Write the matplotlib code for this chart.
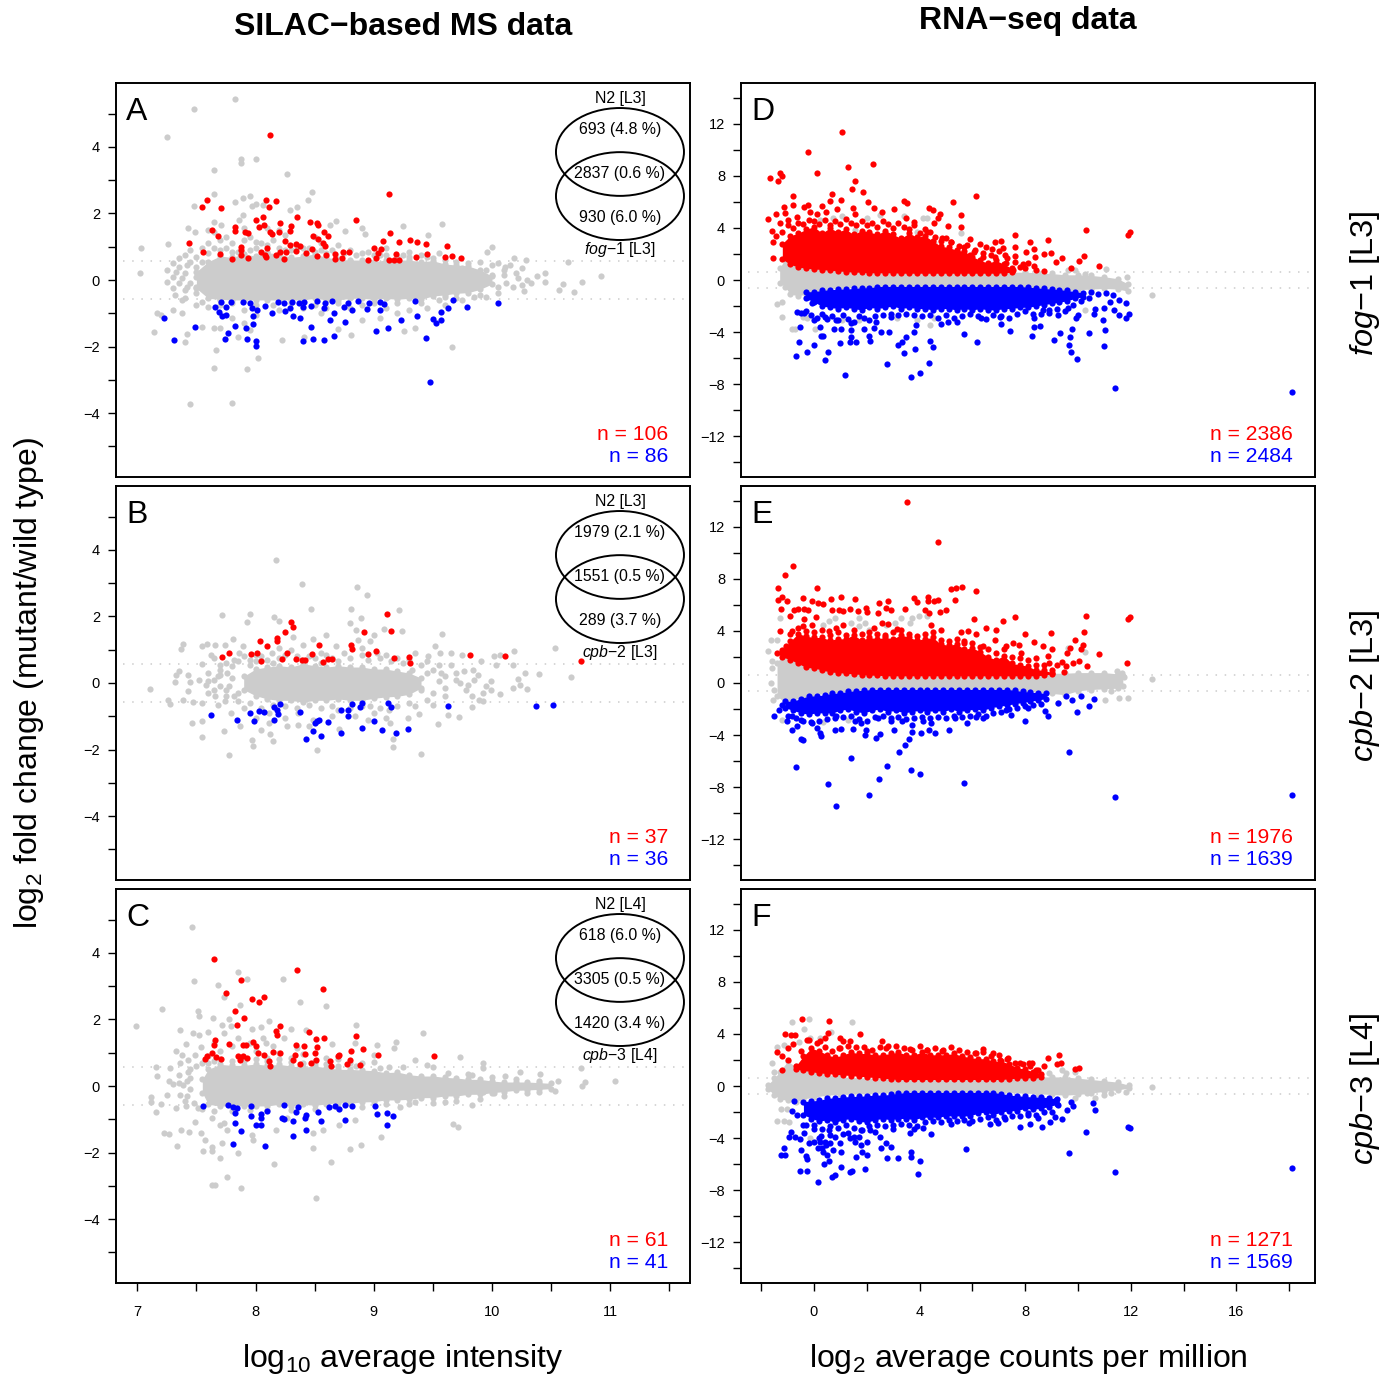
#! /usr/bin/env python3

import matplotlib
matplotlib.use("Agg")
import matplotlib.pyplot as plt
from matplotlib.patches import Ellipse

plt.rcParams["font.family"] = ["Liberation Sans", "DejaVu Sans"]
plt.rcParams["mathtext.fontset"] = "custom"
plt.rcParams["mathtext.rm"] = "Liberation Sans"
plt.rcParams["mathtext.it"] = "Liberation Sans:italic"
plt.rcParams["mathtext.bf"] = "Liberation Sans:bold"
plt.rcParams["mathtext.default"] = "regular"

GRAY = "#CCCCCC"
RED = "#FF0000"
BLUE = "#0000FF"

# ---- panel A, sparse points (log10 intensity, log2 fc)
a_gray = [(7.83,5.44),(7.48,5.15),(7.25,4.29),(7.88,3.63),(7.88,3.51),(8.0,3.63),(7.65,3.32),(8.27,3.2),(7.65,2.58),(8.48,2.64),
    (7.89,2.46),(7.95,2.51),(7.83,2.33),(7.48,2.23),(7.97,2.23),(8.0,2.29),(8.06,2.26),(8.35,2.2),(8.29,2.09),(8.44,2.41),
    (7.89,1.96),(7.86,1.8),(8.68,1.76),(8.63,1.65),(9.58,1.69),(9.25,1.61),(7.43,1.55),(7.49,1.45),(7.6,1.5),(7.71,1.65),
    (7.65,1.75),(8.9,1.55),(8.93,1.38),(8.76,1.47),(9.46,1.35),(7.03,.97),(7.26,1.07),(7.02,.22),(10.0,.98),(9.96,.85),
    (10.19,.65),(10.29,.6),(10.11,.4),(10.64,.53),(10.92,.12),(10.76,-.06),(10.6,-.12),(10.57,-.3),(10.69,-.37),(10.45,.2),
    (10.45,-.07),(10.38,.13),(10.33,-.1),(10.27,-.32),(7.4,.75),(7.35,.65),(7.45,.9),(7.55,.95),(7.6,1.1),(7.7,1.2),
    (7.75,1.3),(7.8,1.1),(7.9,1.2),(7.95,1.3),(8.05,1.1),(8.15,1.2),(8.25,1.35),(8.35,1.0),(8.5,1.3),(8.55,1.1),
    (8.7,1.05),(8.8,.9),(8.95,.85),(9.1,.95),(9.3,.85),(9.4,.75),(9.55,.8),(7.6,.8),(7.7,.9),(7.85,.85),
    (8.0,.95),(8.1,.85),(8.3,.9),(8.45,.95),(8.6,.8),(9.05,.75),(9.2,.7),(8.85,.75),(7.65,1.45),(8.1,1.55),
    (8.2,1.5),(7.9,1.55),(7.3,.5),(7.25,.3),(7.3,.1),(7.25,-.05),(7.3,-.25),(7.35,.4),(7.4,.2),(7.35,-.1),
    (7.4,-.3),(7.32,-.45),(7.38,-.6),(7.45,-.1),(9.9,.55),(10.0,.45),(10.05,.5),(10.1,.3),(10.15,.45),(10.2,.2),
    (10.22,.05),(10.25,.35),(10.12,-.1),(10.18,-.2),(10.05,-.4),(9.9,-.45),(9.75,-.6),(10.0,.15),(10.3,.0),(10.25,-.15),
    (9.95,-.5),(7.2,-1.05),(7.17,-1.0),(7.14,-1.55),(7.38,-1.0),(7.3,-.9),(7.55,-1.4),(7.65,-1.45),(7.7,-1.45),(7.8,-1.15),
    (7.9,-1.3),(7.95,-1.5),(7.85,-1.7),(7.67,-2.1),(7.65,-2.63),(7.93,-2.68),(8.02,-2.35),(7.45,-3.72),(7.8,-3.69),(9.66,-2.0),
    (8.22,-1.8),(7.4,-1.87),(7.42,-1.62),(9.26,-1.52),(9.35,-1.45),(8.81,-1.65),(8.7,-1.48),(8.41,-1.7),(7.6,-.8),(7.7,-.75),
    (7.9,-.9),(8.0,-1.05),(8.2,-.9),(8.4,-.85),(8.55,-1.0),(8.6,-.85),(8.8,-.85),(8.9,-1.2),(9.05,-1.15),(9.1,-.85),
    (9.2,-1.0),(9.3,-.9),(9.45,-.85),(9.6,-.75),
    (7.5,.7),(7.55,.55),(7.65,.95),(7.75,.95),(7.8,.85),(7.95,.9),(8.0,1.15),(8.1,1.05),(8.2,.95),(8.25,.9),
    (8.4,.95),(8.5,.85),(8.55,.9),(8.65,.9),(8.75,.8),(8.9,.8),(9.0,.75),(9.1,.75),(9.25,.75),(9.3,.7),
    (9.45,.7),(9.5,.65),(9.6,.6),(9.7,.55),(9.8,.5),(9.75,.35),(7.4,-.55),(7.5,-.75),(7.55,-.65),(7.7,-.6),
    (7.8,-.7),(8,-.75),(8.15,-.75),(8.3,-.7),(8.5,-.75),(8.7,-.7),(8.9,-.75),(9,-.7),(9.2,-.7),(9.4,-.7),
    (9.55,-.6),(9.7,-.55),(9.85,-.5),(9.6,-.5),(7.42,.45),(7.38,.05),(7.42,-.2),(7.33,.25),(7.45,.55),(7.5,.4),
    (7.5,.1),(7.5,-.2),(7.5,-.4),(9.95,.3),(10.1,.15),(10.05,-.2)]
a_red = [(8.12,4.35),(9.13,2.58),(7.59,2.4),(7.55,2.19),(7.71,2.15),(8.09,2.4),(8.17,2.37),(8.11,2.19),(8.06,1.9),(8.0,1.8),
    (8.35,1.9),(8.85,1.79),(8.46,1.75),(8.52,1.72),(8.53,1.65),(8.21,1.7),(8.07,1.66),(8.03,1.6),(8.3,1.63),(7.83,1.6),
    (7.83,1.48),(7.63,1.49),(7.91,1.45),(7.94,1.42),(8.12,1.45),(8.14,1.38),(8.2,1.45),(8.29,1.47),(8.58,1.45),(8.61,1.33),
    (8.49,1.32),(9.14,1.41),(7.68,1.32),(7.44,1.11),(9.21,1.15),(9.31,1.2),(9.37,1.14),(9.44,1.09),(9.08,1.17),(8.25,1.17),
    (8.34,1.09),(8.38,1.03),(8.53,1.23),(8.57,1.1),(8.59,1.02),(8.29,1.05),(7.88,.99),(9.0,.96),(9.62,1.03),(8.1,.95),
    (7.56,.84),(7.88,.9),(7.7,.79),(7.88,.75),(8.05,.83),(8.08,.75),(8.21,.83),(8.26,.83),(8.34,.88),(8.48,.92),
    (8.43,.8),(8.52,.73),(8.6,.75),(8.67,.77),(8.74,.83),(8.79,.85),(9.06,.92),(9.04,.8),(9.45,.77),(9.19,.78),
    (9.36,.7),(9.6,.69),(9.66,.72),(9.74,.66),(7.8,.64),(7.94,.67),(8.09,.7),(8.17,.75),(8.24,.63),(8.67,.63),
    (8.73,.65),(8.95,.6),(9.02,.65),(9.13,.6),(9.21,.6),(9.17,.6)]
a_blue = [(7.23,-1.14),(7.31,-1.8),(7.49,-1.41),(9.48,-3.06),(9.44,-1.75),(10.05,-.68),(9.79,-.82),(9.67,-.6),(9.63,-.85),(9.57,-.97),
    (9.5,-1.18),(9.53,-1.28),(9.57,-1.2),(9.37,-1.08),(9.23,-1.21),(9.12,-1.43),(9.02,-1.53),(9.05,-.9),(9.05,-.65),(9.09,-.72),
    (8.94,-.88),(8.96,-.68),(8.87,-.63),(9.35,-.64),(8.82,-.9),(8.78,-.68),(8.75,-.82),(8.76,-1.27),(8.63,-1.2),(8.66,-1.0),
    (8.58,-.83),(8.59,-.68),(8.65,-.63),(8.52,-.63),(8.47,-.77),(8.4,-.8),(8.41,-.67),(8.37,-.7),(8.31,-.65),(8.24,-.7),
    (8.19,-.65),(8.29,-.85),(8.25,-.92),(8.14,-.98),(8.08,-.77),(8.01,-.9),(7.97,-.83),(7.95,-.68),(7.89,-.65),(7.79,-.67),
    (7.71,-.67),(7.75,-.8),(7.66,-.82),(7.69,-.95),(7.72,-1.08),(7.75,-1.05),(7.98,-1.07),(7.98,-1.31),(7.92,-1.43),(7.83,-1.38),
    (7.77,-1.58),(7.74,-1.78),(7.93,-1.77),(8.0,-1.83),(8.0,-1.98),(8.32,-1.08),(8.38,-1.15),(8.47,-1.42),(8.4,-1.84),(8.49,-1.77),
    (8.58,-1.79),(8.66,-1.67)]
a_band_x = [7.5,7.6,7.7,7.8,7.9,8.0,8.1,8.2,8.3,8.4,8.5,8.6,8.7,8.8,8.9,9.0,9.1,9.2,9.3,9.4,9.5,9.6,9.7,9.8,9.9,10.0]
a_band_top = [.25,.55,.72,.68,.78,.72,.82,.78,.68,.72,.78,.68,.62,.6,.6,.55,.6,.6,.6,.55,.58,.48,.45,.42,.3,.12]
a_band_bot = [-.25,-.55,-.58,-.6,-.6,-.6,-.6,-.6,-.6,-.6,-.55,-.6,-.6,-.55,-.55,-.58,-.55,-.58,-.55,-.58,-.48,-.45,-.4,-.38,-.28,-.12]

# ---- panel B
b_gray = [(8.17,3.7),(8.39,2.98),(8.86,2.89),(8.94,2.63),(7.72,2.04),(7.95,2.08),(7.93,1.83),(8.16,1.97),(8.2,1.87),(8.47,2.22),
    (8.81,2.22),(9.21,2.2),(8.89,1.95),(8.8,1.8),(8.85,1.6),(9.24,1.55),(9.09,1.63),(9.58,1.48),(9.0,1.45),(8.87,1.28),
    (8.97,1.25),(8.6,1.45),(8.49,1.32),(8.32,1.38),(7.81,1.33),(10.53,1.05),(10.19,.97),(10.07,.85),(10.02,.8),(10.67,.18),
    (10.4,.27),(10.28,.31),(10.18,.53),(10.22,.13),(10.3,-.17),(10.24,-.05),(10.18,-.15),(7.39,1.17),(7.37,1.02),(7.55,1.1),
    (7.59,1.17),(7.66,1.13),(7.74,1.13),(7.89,1.1),(7.62,.85),(7.65,.75),(7.82,.7),(7.55,.57),(7.35,.37),(7.33,.25),
    (7.43,.23),(7.32,.03),(7.11,-.19),(7.45,.03),(7.52,.1),(7.43,-.25),(7.39,-.5),(7.26,-.5),(7.28,-.62),(7.47,-.58),
    (7.55,-.6),(7.46,-1.2),(7.55,-1.15),(7.55,-1.62),(7.73,-1.43),(7.78,-2.16),(7.97,-1.72),(7.98,-1.9),(8.15,-1.74),(8.12,-1.52),
    (8.52,-2.02),(9.4,-2.12),(9.16,-1.92),(9.16,-1.67),(8.71,-1.38),(9.14,-1.2),(9.29,-1.05),(9.38,-.93),(9.54,-1.22),(9.63,-.97),
    (9.72,-1.03),(9.83,-.72),(9.89,-.5),(9.99,-.2),(10.07,-.33),(9.92,-.3),(9.83,-.4),(9.78,-.2),(9.73,0),(9.76,.35),
    (9.84,.4),(9.91,.65),(9.75,.85),(9.65,.9),(9.56,.9),(9.52,1.1),(9.65,.55),(9.57,.3),(9.35,.9),(9.46,.8),
    (9.99,.05),(10.03,.55),(9.95,-.1),(9.13,-.8),(9.0,-.9),(8.97,-.7),(8.84,-1.0),(8.65,-1.0),(8.36,-1.25),(8.27,-1.3),
    (8.05,-1.4),(8.11,-1.2),(7.87,-1.3),(7.79,-.9),(7.68,-.65),(8.36,-.9),(8.49,-1.1),(7.82,-.4),(7.7,-.1),(7.7,.25),
    (7.76,.3),(7.6,.3),(7.6,-.3),(7.66,-.4),(7.74,-.55),(8.11,-.9),(8.3,1.0),(8.4,1.15),(8.68,1.1),(9.03,.9),
    (8.75,.9),(8.55,.9),(8.14,.9),(7.86,.9),(9.32,.4),(9.2,.75),(9.1,.85),(8.9,1.05),(8.2,1.05),(8.0,.85),
    (7.95,.7),(8.45,.8),(8.65,.75),(9.55,.55),(9.6,-.4),(9.7,.3),(9.85,.1),(9.5,-.65),(9.35,-.7),(7.9,-.75),
    (8.0,-1.05),(8.25,-1.05),(8.45,-1.3),(8.7,-.8),(8.95,-1.1),(9.1,-1.05),(7.65,.1),(7.75,-.2),(7.58,-.05),(7.7,.55),
    (7.7,.4),(7.75,.6),(7.8,.5),(7.85,.65),(7.9,.8),(7.95,.55),(8,.65),(8.05,.8),(8.1,.7),(8.15,.6),
    (8.2,.75),(8.25,.85),(8.35,.8),(8.4,.7),(8.5,.75),(8.55,.6),(8.6,.85),(8.7,.65),(8.8,.75),(8.9,.85),
    (8.95,.7),(9.05,.75),(9.15,.65),(9.25,.6),(9.3,.7),(9.4,.55),(9.45,.65),(9.5,.4),(9.6,.2),(9.55,.05),
    (9.6,-.15),(9.7,.1),(9.5,-.3),(9.45,-.5),(9.3,-.6),(9.2,-.7),(9.05,-.75),(8.9,-.7),(8.8,-.75),(8.65,-.7),
    (8.55,-.75),(8.45,-.65),(8.35,-.75),(8.25,-.7),(8.15,-.65),(8.05,-.75),(7.95,-.6),(7.85,-.55),(7.75,-.4),(7.65,-.2),
    (7.6,.05),(7.68,.2),(9.8,-.05),(9.88,.25),(9.92,-.55),(9.45,.3),(9.4,-.2),(7.8,.15),(7.78,-.1),(7.85,-.3)]
b_red = [(7.72,.78),(7.78,.9),(7.96,.88),(8.01,.9),(8.05,.67),(8.04,1.27),(8.1,1.1),(8.18,1.34),(8.18,1.25),(8.25,1.52),
    (8.3,1.83),(8.32,1.67),(8.22,.71),(8.27,.89),(8.34,.71),(8.39,.68),(8.42,.68),(8.48,.87),(8.54,1.14),(8.57,.63),
    (8.61,.73),(8.65,.73),(8.81,1.14),(8.82,1.03),(8.92,1.53),(8.95,.88),(9.02,.96),(9.11,2.07),(9.15,1.57),(9.17,.74),
    (9.3,.78),(9.31,.6),(9.81,.85),(10.11,.8),(10.75,.66)]
b_blue = [(7.62,-.96),(7.84,-1.11),(7.95,-.91),(7.99,-1.15),(8.03,-.83),(8.07,-.86),(8.16,-1.12),(8.16,-.73),(8.18,-.8),(8.19,-.92),
    (8.21,-.62),(8.38,-.88),(8.43,-1.69),(8.49,-1.44),(8.5,-1.19),(8.52,-1.14),(8.54,-1.1),(8.61,-1.18),(8.55,-1.59),(8.72,-1.51),
    (8.72,-.81),(8.78,-.82),(8.78,-.98),(8.82,-.63),(8.88,-.71),(8.9,-.59),(8.9,-1.34),(9.0,-1.14),(9.07,-1.41),(9.12,-.61),
    (9.15,-.73),(9.19,-1.5),(9.29,-1.38),(9.63,-.68),(10.37,-.68),(10.52,-.65)]
b_band_x = [7.9,8.0,8.1,8.2,8.3,8.4,8.5,8.6,8.7,8.8,8.9,9.0,9.1,9.2,9.3,9.4]
b_band_top = [.2,.42,.48,.52,.48,.58,.52,.48,.52,.48,.48,.42,.42,.36,.3,.15]
b_band_bot = [-.2,-.38,-.48,-.52,-.52,-.58,-.52,-.52,-.48,-.52,-.52,-.46,-.42,-.4,-.34,-.15]

# ---- panel C
c_gray = [(7.46,4.78),(7.85,3.44),(7.93,3.21),(7.48,3.16),(7.68,3.05),(8.23,3.21),(7.73,2.67),(8.38,2.52),(7.87,2.44),(8.6,2.39),
    (7.21,2.31),(7.51,2.26),(7.52,2.09),(7.64,2.04),(6.99,1.79),(7.36,1.69),(7.47,1.6),(7.52,1.53),(7.6,1.61),(7.72,1.84),
    (7.78,2.02),(7.79,1.79),(7.73,1.58),(7.97,1.71),(8.05,1.77),(8.11,1.94),(8.06,1.43),(8.09,1.28),(8.3,1.71),(8.24,1.43),
    (8.43,1.67),(8.85,1.84),(9.42,1.58),(9.19,1.33),(9.17,1.13),(9.03,1.23),(9.0,.93),(9.73,.86),(8.84,1.28),(8.65,1.26),
    (7.41,1.25),(7.33,1.06),(7.38,.93),(7.43,.78),(7.49,.93),(7.54,1.18),(7.16,.58),(7.17,.31),(7.28,.53),(7.36,.68),
    (7.35,.33),(7.43,.43),(7.27,.16),(7.39,.03),(7.36,-.27),(7.25,-.27),(7.12,-.32),(7.12,-.47),(7.2,-.55),(7.16,-.77),
    (7.33,-.67),(7.41,-.6),(7.51,-.67),(7.49,-1.07),(7.23,-1.42),(7.27,-1.44),(7.37,-1.32),(7.44,-1.37),(7.54,-1.42),(7.57,-1.62),
    (7.34,-1.8),(7.56,-1.95),(7.63,-1.83),(7.63,-1.96),(7.72,-1.7),(7.85,-2.01),(7.7,-2.16),(7.76,-2.74),(7.63,-2.97),(7.66,-2.97),
    (7.88,-3.08),(8.51,-3.38),(8.16,-2.33),(8.64,-2.28),(8.49,-1.86),(8.8,-1.9),(8.89,-1.76),(9.06,-1.53),(9.67,-1.13),(9.71,-1.24),
    (7.63,-.97),(7.7,-1.17),(7.76,-1.32),(7.73,-1.12),(7.97,-1.47),(7.98,-1.62),(8.17,-1.32),(8.27,-.97),(8.49,-1.42),(8.57,-1.32),
    (8.71,-1.17),(8.84,-1.02),(9.22,-.62),(9.35,-.47),(9.6,-.47),(9.83,-.57),(9.92,-.17),(10.02,-.22),(9.92,.68),(9.92,.53),
    (10.24,.43),(10.11,.3),(10.41,.36),(10.56,.16),(10.75,.53),(10.79,.13),(10.76,.01),(11.04,.16),(10.53,-.14),(10.4,-.17),
    (9.35,.78),(9.45,.63),(9.5,.58),(9.25,.58),(9.13,.58),(9.63,.38),(9.83,.33),(9.0,.73),(7.6,.9),(7.7,1.05),
    (7.8,1.2),(7.9,.85),(8.0,1.05),(8.1,.85),(8.2,1.0),(8.3,.85),(8.4,.95),(8.5,.75),(8.6,.85),(8.7,.8),
    (8.8,.7),(8.9,.7),(7.65,1.3),(7.85,1.45),(7.95,1.3),(8.15,1.2),(8.35,1.15),(7.3,.05),(7.4,-.45),(7.45,.25),
    (7.45,.5),(7.5,.6),(7.55,.7),(7.6,.7),(7.65,.75),(7.7,.8),(7.8,.75),(7.9,.75),(8.0,.8),(8.1,.75),
    (8.2,.8),(8.3,.72),(8.4,.7),(8.5,.7),(8.6,.65),(8.7,.6),(8.85,.6),(9.05,.55),(7.35,.1),(7.42,.15),
    (7.45,-.1),(7.42,-.3),(7.48,-.5),(7.55,-.7),(7.65,-.75),(7.8,-.75),(7.95,-.72),(8.1,-.72),(8.3,-.72),(8.5,-.7),
    (8.7,-.65),(8.9,-.62),(9.1,-.55),(9.3,-.55),(9.5,-.5),(9.7,-.45),(9.9,-.4),(10.1,-.3),(10.3,-.2),(9.8,.35),
    (10,.28),(10.2,.22),(10.4,.15)]
c_red = [(7.65,3.81),(8.35,3.5),(7.88,3.19),(8.57,2.91),(7.75,2.8),(7.97,2.62),(8.07,2.66),(8.03,2.53),(7.83,2.24),(7.9,2.03),
    (7.84,1.83),(8.21,1.81),(8.17,1.65),(8.18,1.53),(8.45,1.63),(8.85,1.49),(8.51,1.41),(8.58,1.45),(7.66,1.38),(7.65,1.22),
    (7.78,1.25),(7.89,1.22),(7.92,1.24),(7.98,1.32),(8.0,1.19),(8.02,1.0),(8.07,.93),(8.15,1.03),(8.21,.98),(8.34,1.22),
    (8.41,1.2),(8.52,1.16),(8.5,.99),(8.42,.97),(8.33,.93),(8.81,1.04),(8.91,1.1),(9.04,.94),(9.51,.91),(7.63,.98),
    (7.59,.91),(7.57,.81),(7.67,.86),(7.71,.82),(7.85,.91),(7.89,.91),(7.93,.85),(7.87,.78),(8.11,.75),(8.12,.59),
    (8.32,.77),(8.38,.66),(8.47,.69),(8.51,.79),(8.63,.76),(8.64,.6),(8.7,.91),(8.71,.93),(8.8,.79),(8.77,.65),(8.88,.62)]
c_blue = [(7.56,-.6),(7.77,-.57),(7.81,-.64),(7.84,-.66),(7.83,-.82),(7.96,-.6),(7.96,-.91),(7.83,-1.11),(7.88,-1.36),(7.81,-1.73),
    (8.08,-1.79),(8.0,-1.16),(8.05,-1.16),(8.05,-.84),(8.05,-.97),(8.1,-.76),(8.24,-.58),(8.22,-.97),(8.24,-1.0),(8.34,-.78),
    (8.36,-.62),(8.32,-1.05),(8.32,-1.49),(8.43,-1.32),(8.42,-.97),(8.43,-.88),(8.53,-.77),(8.55,-1.05),(8.62,-.62),(8.67,-.6),
    (8.71,-.69),(8.76,-.57),(8.82,-.61),(8.76,-1.01),(9.01,-.59),(9.03,-.83),(9.11,-.81),(9.16,-.91),(9.11,-1.17)]
c_band_x = [7.55,7.6,7.7,7.8,7.9,8.0,8.1,8.2,8.3,8.4,8.5,8.6,8.7,8.8,8.9,9.0,9.1,9.2,9.3,9.4,9.5,9.6,9.7,9.8,9.9,10.0,10.1,10.2,10.3,10.4,10.5]
c_band_top = [.2,.5,.65,.62,.62,.66,.62,.65,.6,.56,.6,.55,.5,.5,.48,.46,.4,.42,.34,.3,.3,.26,.24,.2,.2,.15,.12,.12,.12,.1,.08]
c_band_bot = [-.2,-.55,-.6,-.6,-.6,-.6,-.6,-.55,-.6,-.55,-.58,-.54,-.5,-.52,-.48,-.47,-.42,-.42,-.4,-.35,-.35,-.3,-.3,-.25,-.25,-.2,-.17,-.13,-.12,-.1,-.08]

# ---- panel D (log2 cpm, log2 fc)
d_gray = [(4.13,4.79),(4.27,4.74),(3.42,4.92),(2.49,5),(1.99,4.74),(1.07,4.92),(.71,4.74),(.21,4.62),(3.92,3.72),(5.58,3.59),
    (4.56,2.82),(1.57,3.85),(11.08,.85),(10.26,.46),(9.9,.77),(9.62,.77),(11.85,.2),(12.82,-1.15),(-1.42,-1.87),(-1.21,-1.67),
    (-1.21,-2.87),(-.83,-3.77),(-.71,-3.77),(.03,-3.77),(-.43,-2.87),(-.28,-2.95),(1.07,-3.08),(3.13,-2.95),(3.92,-3.08),(4.39,-3.46),
    (4.56,-2.95),(1.71,-3.08),(10.26,-2.31),(9.26,-1.54)]
d_red = [(1.08,11.36),(-.21,9.82),(1.27,8.67),(2.25,8.9),(.11,8.23),(-1.3,8.2),(-1.23,8.0),(-1.67,7.87),(-1.38,7.6),(1.54,7.6),
    (1.44,7.0),(1.84,6.77),(-.81,6.49),(.67,6.59),(1.01,6.15),(.61,6.1),(2.05,6.0),(6.13,6.44),(5.27,5.97),(3.42,6.1),
    (3.53,5.95),(4.34,5.56),(4.52,5.38),(3.05,5.49),(2.28,5.51),(1.48,5.54),(.3,5.69),(-.21,5.77),(-.78,5.77),(-1.14,5.64),
    (-.36,5.64),(.88,5.44),(1.57,5.08),(.47,5.26),(-.14,5.26),(2.59,5.2),(4.79,5.05),(5.58,5.0),(-1.45,5.08),(-1.74,4.69),
    (-1.1,5.13),(.11,5.05),(3.5,4.77),(4.7,4.74),(4.53,4.41),(5.58,4.08),(5.09,4.15),(10.3,3.87),(11.99,3.72),(11.89,3.49),
    (7.62,3.46),(8.86,3.08),(7.09,3.0),(6.84,2.95),(5.9,3.15),(6.3,2.77),(6.5,2.51),(6.75,2.41),(7.15,2.49),(7.62,2.54),
    (8.19,2.95),(8.33,2.41),(8.02,2.13),(7.62,1.85),(8.36,1.74),(8.72,2.03),(8.99,2.08),(9.4,1.67),(9.16,1.36),(10.23,1.85),
    (10.04,1.46),(9.72,.9),(10.8,1.1),(8.73,.69),(8.33,1.08),(7.91,1.21),(7.26,1.28),(-1.6,3.79),(-1.57,2.9),(-1.45,3.41),
    (-1.54,1.72),(-1.21,3.72),(-1.28,4.36),(-1,4.62),(-.64,4.87),(3.77,4.49),(4.27,3.72),(4.84,3.26),(5.2,2.95),(5.7,2.56),
    (6.05,2.18),(6.41,2.05),(6.84,1.79),(7.22,1.92),(7.55,.77),(7.98,.9),
    (-1,4.2),(-.8,4.0),(-.6,4.4),(-.4,4.3),(-.2,4.6),(0,4.5),(.2,4.3),(.4,4.6),(.6,4.2),(.8,4.5),
    (1,4.3),(1.2,4.7),(1.4,4.4),(1.6,4.2),(1.8,4.5),(2,4.2),(2.2,4.4),(2.4,4.1),(2.6,4.5),(2.8,4.3),
    (3,4.0),(3.2,4.4),(3.4,4.1),(3.6,3.9),(3.8,4.2),(4,3.6),(4.2,3.9),(4.4,3.7),(4.6,3.3),(4.8,3.0),
    (5,3.2),(5.2,2.9),(5.5,2.6),(5.8,2.7),(6.1,2.3),(6.4,1.8),(6.7,1.9),(7,2.2),(7.3,1.7),(7.6,1.4),
    (7.8,1.0),(8.1,1.3),(8.4,.8),(5.9,1.9)]
d_blue = [(18.12,-8.64),(11.41,-8.33),(1.17,-7.33),(3.69,-7.49),(4.02,-7.13),(2.76,-6.49),(4.34,-6.38),(-.7,-5.82),(.4,-6.15),(-.27,-5.56),
    (.54,-5.54),(3.42,-5.64),(3.82,-5.28),(4.52,-5.18),(4.39,-4.72),(3.18,-4.97),(3.35,-4.74),(3.49,-4.36),(3.77,-3.97),(-.57,-4.74),
    (.01,-5.03),(1.0,-4.87),(1.35,-4.74),(1.61,-4.74),(2.14,-4.67),(2.07,-4.31),(.26,-4.31),(.36,-4.31),(1.4,-4.36),(1.42,-3.85),
    (-.53,-3.62),(.24,-3.59),(.74,-3.79),(1.04,-3.77),(1.88,-3.74),(2.28,-3.72),(2.52,-3.97),(2.83,-4.03),(3.85,-3.46),(4.83,-3.41),
    (5.09,-3.2),(5.68,-4.13),(6.18,-4.74),(7.42,-3.92),(7.07,-3.41),(8.25,-4.33),(8.33,-3.64),(8.55,-3.54),(9.1,-4.62),(9.33,-4.08),
    (9.69,-4.36),(9.66,-5.03),(9.73,-5.56),(9.97,-6.1),(9.79,-3.74),(10.41,-4.05),(10.98,-5.1),(11.01,-3.87),(10.94,-3.08),(11.94,-2.64),
    (11.82,-2.95),(11.54,-2.69),(11.37,-2.31),(11.82,-1.79),(11.57,-1.54),(11.21,-1.67),(11.32,-1.15),(11.08,-1.03),(10.75,-1.08),(10.5,-.95),
    (10.97,-2.18),(10.66,-2.26),(10.61,-2.64),(9.94,-2.95),(10.01,-2.69),(9.62,-2.18),(9.26,-2.69),(8.9,-2.56),(8.66,-2.31),(8.33,-2.95),
    (7.05,-2.82),(6.34,-2.95),(5.41,-3.21),(2.92,-2.87),(2.35,-3.2),(1.42,-3.33),(.85,-3.08),(.43,-2.82),(0,-3.08),(-.64,-2.44),
    (-.36,-2.56),(-.21,-1.28),(-.07,-1.8),
    (-.5,-2.5),(-.3,-2.4),(-.1,-2.7),(.1,-2.9),(.3,-2.6),(.5,-3.0),(.7,-2.8),(.9,-3.1),(1.1,-2.7),(1.3,-3.0),
    (1.5,-3.2),(1.7,-2.8),(1.9,-2.9),(2.1,-3.1),(2.3,-2.8),(2.6,-2.7),(2.9,-2.6),(3.2,-2.7),(3.5,-2.6),(3.8,-2.7),
    (4.1,-2.8),(4.4,-2.7),(4.7,-2.9),(5,-2.7),(5.3,-2.9),(5.6,-2.8),(5.9,-2.6),(6.2,-2.8),(6.5,-3),(6.8,-2.7),
    (7.1,-2.8),(7.4,-2.9),(7.7,-2.6),(8,-2.4),(8.3,-2.6),(8.6,-2.6),(8.9,-2.3),(9.2,-2.2),(9.5,-2.4),(9.8,-1.9),
    (10.1,-1.6),(10.4,-1.4)]
d_band_x = [-1.3,-1.1,-.9,-.6,-.3,0,.5,1,2,3,4,5,6,7,8,8.5,9,9.5,10,10.5,11,11.5,11.9]
d_band_top = [.9,1.6,1.3,1.1,1,.9,.8,.7,.6,.6,.6,.6,.6,.6,.6,.55,.5,.4,.4,.35,.25,.1,-.3]
d_band_bot = [-.2,-.5,-1.1,-1.2,-1.1,-1.0,-.7,-.6,-.55,-.55,-.55,-.55,-.55,-.55,-.6,-.7,-.8,-.85,-.75,-.7,-.65,-.7,-.85]
d_up_x = [-1.2,-.9,-.6,-.3,0,.3,.6,.9,1.2,1.5,1.8,2.1,2.4,2.7,3,3.3,3.6,3.9,4.2,4.5,4.8,5.1,5.4,5.7,6,6.3,6.6,6.9,7.2,7.5]
d_up_top = [2.8,3.4,3.6,3.9,4.1,3.6,4.0,3.7,3.9,3.5,3.8,3.7,3.5,3.8,3.5,3.2,3.6,3.3,3.4,3.0,2.6,2.5,2.3,2.2,1.8,1.5,1.3,1.5,1.2,.9]
d_up_bot = [1.6,1.2,1.0,.9,.85,.8,.75,.7,.65,.6,.6,.55,.55,.55,.55,.52,.52,.52,.52,.52,.52,.52,.52,.52,.52,.52,.52,.52,.55,.6]
d_dn_x = [-.3,0,.3,.6,.9,1.2,1.5,1.8,2.1,2.4,2.7,3,3.3,3.6,3.9,4.2,4.5,4.8,5.1,5.4,5.7,6,6.3,6.6,6.9,7.2,7.5,7.8,8.1,8.4,8.7,9,9.3,9.6,9.9,10.2]
d_dn_top = [-.9,-.9,-.8,-.75,-.7,-.7,-.65,-.6,-.6,-.5,-.5,-.5,-.5,-.5,-.5,-.5,-.5,-.5,-.5,-.5,-.5,-.5,-.5,-.5,-.5,-.5,-.5,-.5,-.55,-.6,-.65,-.7,-.75,-.8,-.9,-1.0]
d_dn_bot = [-1.4,-1.7,-2.0,-2.1,-2.2,-2.1,-2.2,-2.3,-2.1,-2.2,-2.1,-2.0,-2.2,-2.1,-2.2,-2.2,-2.3,-2.2,-2.2,-2.3,-2.2,-2.3,-2.2,-2.3,-2.3,-2.2,-2.2,-2.1,-2.1,-2.0,-1.9,-1.8,-1.7,-1.6,-1.4,-1.3]

# ---- panel E
e_gray = [(-1.28,5),(.78,5),(.57,4.74),(.36,4.49),(1.71,5),(1.42,4.62),(1.71,4.36),(1.92,4.62),(3.28,5),(3.06,4.62),
    (3.7,5),(3.99,5.13),(4.27,5.13),(3.63,4.62),(2.71,4.49),(2.07,4.1),(-1.64,3.33),(-1.42,3.33),(-1.74,2.44),(-1.6,1.67),
    (-1.6,1.15),(-1.64,0),(-1.5,-.51),(-1.57,-1.28),(-1.21,-2.87),(.36,-3.0),(1.28,-2.87),(12.82,.31),(11.89,-1.15),(11.54,-1.15),
    (11.25,-.64),(11.01,-1.33),(10.26,2.36),(9.62,2.69),(5.13,2.05),(4.77,2.31),(11.68,.77),(11.75,.46),(11.47,.9),(9.26,-1.54)]
e_red = [(3.53,13.95),(4.7,10.85),(-.81,9.03),(-1.08,8.33),(-1.38,7.33),(.11,7.31),(5.6,7.41),(5.37,7.33),(5.2,7.23),(6.13,7.1),
    (-1.22,6.59),(-1.35,6.41),(-1.03,6.33),(-.4,6.56),(-.09,6.31),(.14,6.13),(.36,6.08),(.64,6.49),(1.01,6.59),(1.54,6.49),
    (2.48,6.15),(2.82,6.33),(3.77,6.54),(3.9,6.21),(4.33,6.59),(4.32,6.28),(4.56,6.28),(4.7,6.36),(5.34,6.36),(-1.25,5.69),
    (-.74,5.64),(-.6,5.72),(-.36,5.69),(-.21,5.59),(.67,5.64),(.93,5.62),(1.1,5.51),(1.35,5.69),(1.68,5.54),(1.97,5.77),
    (2.0,5.44),(2.42,5.38),(2.71,5.77),(2.92,5.64),(3.43,5.69),(4.2,5.64),(4.36,5.38),(4.79,5.49),(5.01,5.64),(-.9,5.13),
    (.07,5.05),(-.38,4.9),(6.05,4.95),(7.62,5.1),(7.15,4.79),(10.3,5.18),(11.99,5.08),(11.89,4.9),(4.42,4.44),(6.5,4.23),
    (6.91,4.1),(4.81,4.1),(5.56,3.92),(5.84,4.03),(6.13,3.77),(2.28,4.26),(2.56,4.62),(2.82,4.54),(3.13,4.18),(1.11,4.44),
    (.85,4.23),(.57,3.97),(-.07,4.44),(-1.28,3.97),(8.01,3.77),(8.99,3.82),(10.23,3.92),(9.87,3.28),(10.18,2.95),(8.35,3.18),
    (7.55,3.08),(7.78,2.9),(8.68,2.87),(9.01,2.59),(9.69,2.69),(10.11,2.62),(10.8,2.26),(11.86,1.54),(10.33,1.33),(10.04,1.67),
    (9.8,1.54),(9.59,2.31),(8.86,2.05),(9.4,1.62),(9.54,1.33),(9.19,1.41),(8.9,1.54),(9.47,.85),(8.4,1.92),(7.83,2.31),
    (7.26,2.82),(6.84,3.33),(6.41,2.82),(5.7,3.21),(-1.42,2.31),(-1.21,2.31),(-1.07,2.82),(-.85,3.97),(-.43,4.36),
    (-.9,3.8),(-.6,4.2),(-.3,4.0),(0,3.9),(.3,4.1),(.6,3.7),(.9,3.9),(1.2,3.7),(1.5,4.1),(1.8,3.8),
    (2.1,3.9),(2.4,3.8),(2.7,3.7),(3,3.9),(3.3,4.1),(3.6,3.8),(3.9,3.6),(4.2,3.8),(4.5,3.9),(4.8,3.3),
    (5.1,3.2),(5.4,3.4),(5.7,3.1),(6,3.1),(6.3,2.8),(6.6,2.6),(6.9,2.3),(7.2,2.6),(7.5,2.0),(7.8,1.9),
    (8.1,1.8),(8.4,1.4),(8.7,1.4),(9,1.0)]
e_blue = [(18.12,-8.64),(11.41,-8.79),(.83,-9.49),(2.08,-8.62),(.54,-7.74),(2.48,-7.41),(5.67,-7.72),(4.02,-7.0),(3.69,-6.67),(2.76,-6.38),
    (-.7,-6.49),(1.41,-5.74),(9.66,-5.31),(3.21,-5.33),(3.43,-4.79),(3.59,-4.31),(3.72,-3.77),(4.06,-3.85),(4.37,-3.59),(4.59,-3.82),
    (5.1,-3.62),(5.81,-3.1),(7.99,-2.95),(3.05,-3.62),(2.51,-3.9),(2.34,-4.26),(1.95,-4.0),(1.97,-3.62),(1.47,-3.54),(1.03,-3.51),
    (.81,-3.64),(.28,-4.05),(.21,-3.85),(.11,-3.46),(-.4,-4.41),(-.48,-4.31),(-.83,-3.62),(-.64,-3.33),(-1.5,-2.54),(-1.31,-2.1),
    (-1.21,-1.67),(-1.03,-2.95),(9.97,-2.2),(10.41,-1.79),(10.61,-1.23),(10.11,-.97),(9.76,-1.28),(9.54,-1.03),(9.26,-1.54),(8.87,-2.56),
    (8.77,-2.18),(8.12,-1.92),(7.48,-2.44),(7.26,-2.1),(6.41,-2.69),(6.15,-2.64),(5.34,-2.69),(4.42,-3.08),(4.13,-2.95),(3.7,-3.21),
    (3.35,-2.95),(2.92,-2.95),(2.42,-2.69),(1.78,-3.08),(1.57,-2.95),(.85,-2.56),(-.07,-3.08),(-.5,-2.82),(-.85,-2.56),
    (-1.0,-2.5),(-.7,-2.7),(-.4,-2.9),(-.1,-3.0),(.2,-2.9),(.5,-2.8),(.8,-2.7),(1.1,-2.6),(1.4,-2.5),(1.7,-2.8),
    (2,-2.9),(2.3,-2.6),(2.6,-2.5),(2.9,-2.7),(3.2,-2.6),(3.5,-2.8),(3.8,-2.7),(4.1,-2.6),(4.4,-2.7),(4.7,-2.6),
    (5,-2.7),(5.3,-2.5),(5.6,-2.6),(5.9,-2.5),(6.2,-2.4),(6.5,-2.5),(6.8,-2.3),(7.1,-2.2),(7.4,-2.0),(7.7,-1.9),
    (8,-1.8),(8.3,-1.7),(8.6,-1.6)]
e_band_x = [-1.4,-1.1,-.8,-.4,0,.5,1,2,3,4,5,6,7,8,8.5,9,9.5,10,10.5,11,11.5,11.7]
e_band_top = [1.5,2.6,2.0,1.5,1.2,1,.8,.7,.6,.6,.6,.6,.6,.6,.7,.75,.75,.8,.8,.8,.7,.5]
e_band_bot = [-1.0,-1.5,-1.3,-1.1,-.9,-.8,-.7,-.6,-.55,-.55,-.55,-.55,-.55,-.6,-.7,-.8,-.9,-.6,-.5,-.45,-.4,-.2]
e_up_x = [-1.2,-.9,-.6,-.3,0,.3,.6,.9,1.2,1.5,1.8,2.1,2.4,2.7,3,3.3,3.6,3.9,4.2,4.5,4.8,5.1,5.4,5.7,6,6.3,6.6,6.9,7.2,7.5,7.8,8.1,8.4,8.7,9.0]
e_up_top = [2.5,3.2,3.8,3.6,3.5,3.5,3.3,3.4,3.4,3.7,3.3,3.5,3.4,3.5,3.4,3.7,3.5,3.3,3.4,3.5,3.0,2.9,3.0,2.6,2.7,2.4,2.0,1.8,2.1,1.5,1.4,1.3,1.0,1.0,.8]
e_up_bot = [2.0,1.8,1.5,1.2,1.15,1.0,.85,.8,.75,.7,.65,.6,.6,.55,.55,.55,.55,.55,.55,.55,.55,.55,.55,.55,.55,.55,.55,.55,.55,.55,.55,.55,.55,.6,.7]
e_dn_x = [-1.1,-.8,-.5,-.2,.1,.4,.7,1,1.3,1.6,1.9,2.2,2.5,2.8,3.1,3.4,3.7,4,4.3,4.6,4.9,5.2,5.5,5.8,6.1,6.4,6.7,7,7.3,7.6,7.9,8.2,8.5,8.8]
e_dn_top = [-1.4,-1.4,-1.2,-1.0,-1.0,-.9,-.8,-.75,-.65,-.6,-.55,-.5,-.5,-.5,-.5,-.5,-.5,-.5,-.5,-.5,-.5,-.5,-.5,-.5,-.5,-.5,-.5,-.5,-.5,-.55,-.65,-.7,-.75,-.8]
e_dn_bot = [-1.9,-2.1,-2.3,-2.4,-2.3,-2.3,-2.3,-2.1,-2.0,-2.2,-2.3,-2.1,-2.0,-2.2,-2.1,-2.3,-2.2,-2.1,-2.2,-2.1,-2.2,-2.0,-2.2,-2.1,-2.0,-2.1,-1.9,-1.8,-1.7,-1.6,-1.5,-1.4,-1.3,-1.2]

# ---- panel F
f_gray = [(-.85,4.95),(-.19,5.15),(-.36,4.36),(1.44,4.95),(.64,4.18),(.21,3.67),(-.14,3.72),(-.57,3.41),(-1.14,3.15),(-1.42,3.03),
    (-1.6,1.79),(-1.5,1.1),(-1.42,-2.67),(-1.14,-2.69),(-1.25,-1.77),(-1.03,-1.77),(-.93,-2.74),(12.82,-.1),(11.82,-.44),(11.25,-.56),
    (10.97,-.69),(10.66,-.95),(10.33,-.56),(9.9,-.95),(9.4,1.23),(9.54,.97),(9.9,1.1),(8.91,.97),(-.14,-4.03),(.43,-2.23)]
f_red = [(-.46,5.15),(.56,5.03),(1.75,3.97),(2.59,3.46),(-1.1,3.97),(-.88,3.92),(-.73,3.9),(.54,4.1),(.4,3.72),(.21,3.46),
    (1.0,3.72),(1.11,3.46),(1.35,3.46),(-.81,3.21),(-1.0,2.9),(-1.42,2.64),(-1.21,2.33),(-1.0,2.0),(-1.21,1.2),(-.28,3.54),
    (6.41,2.82),(6.13,2.51),(6.77,2.51),(9.3,2.38),(8.86,2.13),(9.37,1.74),(9.19,1.67),(8.72,1.56),(8.26,1.74),(7.79,1.74),
    (8.16,1.74),(10.04,1.41),(9.89,1.28),(8.4,.85),(8.05,.85),(8.4,1.23),(7.83,1.1),(7.34,2.13),(7.05,2.0),(4.84,2.72),
    (4.27,2.77),(3.63,2.82),(2.71,2.9),(1.99,2.72),(.93,2.9),
    (-.5,2.7),(-.2,3.5),(.1,3.3),(.4,3.0),(.7,2.7),(1,2.9),(1.3,3.1),(1.6,3.0),(1.9,3.0),(2.2,2.8),
    (2.5,3.0),(2.8,3.1),(3.1,3.1),(3.4,2.9),(3.7,2.8),(4,3.1),(4.3,2.8),(4.6,2.9),(4.9,2.8),(5.2,3.0),
    (5.5,2.8),(5.8,2.6),(6.1,2.5),(6.4,2.6),(6.7,2.3),(7,2.4),(7.3,2.1),(7.6,1.8),(7.9,1.7),(8.2,1.5),(8.5,1.2)]
f_blue = [(18.12,-6.31),(11.41,-6.64),(.16,-7.36),(.68,-7.0),(.78,-6.85),(-.53,-6.54),(-.27,-6.54),(1.35,-6.64),(1.45,-6.51),(1.92,-6.41),
    (1.04,-6.23),(3.95,-6.79),(4.0,-5.74),(.38,-6.03),(.57,-5.74),(-1.25,-5.28),(-1.08,-5.31),(-1.14,-4.74),(-.5,-4.95),(-.28,-5.64),
    (-.31,-5.36),(.36,-5.1),(.17,-4.79),(.5,-5.31),(.71,-4.92),(1.04,-5.05),(1.61,-5.44),(1.81,-5.05),(2.02,-5.31),(2.76,-5.51),
    (3.19,-5.56),(3.69,-5.49),(3.68,-5.05),(2.54,-4.79),(2.92,-4.72),(2.71,-4.41),(2.02,-4.33),(1.78,-4.54),(1.57,-4.28),(1.0,-4.41),
    (.81,-3.95),(.43,-4.28),(.21,-4.28),(.28,-3.82),(-.19,-4.41),(-.54,-4.1),(-.88,-3.51),(-.93,-3.95),(-.71,-3.9),(-.36,-3.64),
    (1.28,-3.64),(2.49,-3.9),(2.14,-3.38),(1.78,-3.38),(3.63,-3.59),(4.42,-3.69),(5.75,-4.87),(9.66,-5.13),(10.3,-3.51),(11.89,-3.13),
    (11.99,-3.26),(10.66,-1.87),(10.57,-1.33),(9.8,-1.51),(9.73,-1.21),(9.59,-1.87),(9.4,-2.56),(9.13,-2.38),(8.95,-2.79),(8.65,-3.13),
    (8.19,-2.95),(7.82,-3.15),(8.48,-2.49),(8.12,-2.23),(7.24,-2.56),(6.98,-2.87),(6.65,-2.92),(5.87,-2.87),(5.2,-2.95),(-.85,-1.92),
    (-.77,-1.15),(-.64,-2.23),(-.43,-3.0),(0,-3.0),(.57,-3.38),(4.13,-3.26),(9.26,-1.46),(9.16,-1.08),
    (-.3,-3),(0,-3.3),(.3,-3.3),(.6,-3.1),(.9,-3.2),(1.2,-3.0),(1.5,-3.2),(1.8,-3.4),(2.1,-3.1),(2.4,-3.0),
    (2.7,-3.1),(3,-3.0),(3.3,-2.9),(3.6,-3.0),(3.9,-3.1),(4.2,-2.8),(4.5,-2.7),(4.8,-2.8),(5.1,-2.6),(5.4,-2.7),
    (5.7,-2.6),(6,-2.7),(6.3,-2.5),(6.6,-2.4),(6.9,-2.6),(7.2,-2.4),(7.5,-2.3),(7.8,-2.3),(8.1,-2.1),(8.4,-2.2),
    (8.7,-2.0),(9,-2.0),(0.2,-4),(0.6,-3.8),(1.1,-3.7),(1.5,-3.9),(.0,-4.3),(.45,-4.5),(1.35,-4.0),(1.7,-3.9),
    (2.3,-3.5),(3,-3.3),(3.8,-3.3),(.3,-4.8),(.6,-4.4)]
f_band_x = [-1.75,-1.5,-1.3,-1,-.7,-.4,0,.5,1,2,3,4,5,6,7,8,8.5,9,9.5,10,10.5,11,11.5,11.95]
f_band_top = [.1,.6,1.1,1.9,1.5,1.3,1.1,.9,.7,.6,.55,.55,.55,.55,.6,.65,.7,.7,.7,.6,.5,.4,.3,.05]
f_band_bot = [-.2,-.7,-1.0,-1.1,-1.2,-1.0,-.85,-.7,-.65,-.6,-.5,-.5,-.5,-.5,-.5,-.55,-.6,-.65,-.7,-.65,-.55,-.4,-.3,-.15]
f_up_x = [-.7,-.4,-.1,.2,.5,.8,1.1,1.4,1.7,2,2.3,2.6,2.9,3.2,3.5,3.8,4.1,4.4,4.7,5,5.3,5.6,5.9,6.2,6.5,6.8,7.1,7.4,7.7,8,8.3,8.6]
f_up_top = [1.5,2.3,2.9,2.7,2.4,2.2,2.4,2.6,2.5,2.5,2.4,2.4,2.5,2.6,2.4,2.4,2.6,2.4,2.4,2.4,2.5,2.3,2.2,2.1,2.1,1.9,1.9,1.7,1.4,1.3,1.1,.9]
f_up_bot = [1.3,1.2,1.1,1.0,.95,.9,.85,.8,.75,.7,.65,.6,.55,.5,.5,.5,.5,.5,.5,.5,.5,.5,.5,.5,.5,.5,.5,.55,.6,.6,.65,.7]
f_dn_x = [-.4,-.1,.2,.5,.8,1.1,1.4,1.7,2,2.3,2.6,2.9,3.2,3.5,3.8,4.1,4.4,4.7,5,5.3,5.6,5.9,6.2,6.5,6.8,7.1,7.4,7.7,8,8.3,8.6,8.9,9.2]
f_dn_top = [-1.2,-1.15,-1.1,-.95,-.9,-.85,-.8,-.8,-.75,-.7,-.7,-.65,-.55,-.5,-.5,-.5,-.5,-.5,-.5,-.5,-.5,-.5,-.5,-.5,-.5,-.6,-.7,-.75,-.8,-.85,-.85,-.9,-1]
f_dn_bot = [-2.2,-2.5,-2.7,-2.6,-2.8,-2.6,-2.5,-2.7,-2.8,-2.6,-2.5,-2.6,-2.5,-2.5,-2.6,-2.4,-2.4,-2.4,-2.3,-2.3,-2.3,-2.3,-2.1,-2.0,-2.2,-2.0,-1.9,-1.9,-1.7,-1.8,-1.7,-1.6,-1.4]

# ---- labels
letters = ["A", "B", "C", "D", "E", "F"]
up_counts = ["n = 106", "n = 37", "n = 61", "n = 2386", "n = 1976", "n = 1271"]
down_counts = ["n = 86", "n = 36", "n = 41", "n = 2484", "n = 1639", "n = 1569"]
venn_a = ["N2 [L3]", "693 (4.8 %)", "2837 (0.6 %)", "930 (6.0 %)", r"$\mathit{fog{-}1}$ [L3]"]
venn_b = ["N2 [L3]", "1979 (2.1 %)", "1551 (0.5 %)", "289 (3.7 %)", r"$\mathit{cpb{-}2}$ [L3]"]
venn_c = ["N2 [L4]", "618 (6.0 %)", "3305 (0.5 %)", "1420 (3.4 %)", r"$\mathit{cpb{-}3}$ [L4]"]
row_names = [r"$\mathit{fog{-}1}$ [L3]", r"$\mathit{cpb{-}2}$ [L3]", r"$\mathit{cpb{-}3}$ [L4]"]

W, H = 1395, 1375
col_left = [116, 741]
row_top = [83, 486, 889]
PANEL_W, PANEL_H = 574, 394
DOT = 20


def pts(ax, pairs, color):
    ax.scatter([p[0] for p in pairs], [p[1] for p in pairs], s=DOT, c=color, linewidths=0, zorder=3)


def body(ax, xs, top, bot, color):
    ax.fill_between(xs, bot, top, color=color, lw=0, zorder=3)
    ax.scatter(xs + xs, top + bot, s=DOT, c=color, linewidths=0, zorder=3)


def make_axes(fig, col, row):
    ax = fig.add_axes([col_left[col] / W, 1 - (row_top[row] + PANEL_H) / H, PANEL_W / W, PANEL_H / H])
    for s in ax.spines.values():
        s.set_linewidth(1.4)
    if col == 0:
        ax.set_xlim(6.82, 11.675)
        ax.set_ylim(-5.92, 5.92)
        ax.set_yticks(range(-5, 6))
        ax.set_yticklabels([str(v).replace("-", "\u2212") if v % 2 == 0 else "" for v in range(-5, 6)])
        ax.set_xticks([7 + i * 0.5 for i in range(10)])
        ax.set_xticklabels([str(7 + i // 2) if i % 2 == 0 else "" for i in range(10)])
    else:
        ax.set_xlim(-2.765, 18.98)
        ax.set_ylim(-15.15, 15.15)
        ax.set_yticks(range(-14, 15, 2))
        ax.set_yticklabels([str(v).replace("-", "\u2212") if v % 4 == 0 else "" for v in range(-14, 15, 2)])
        ax.set_xticks(range(-2, 19, 2))
        ax.set_xticklabels([str(v) if v % 4 == 0 and v >= 0 else "" for v in range(-2, 19, 2)])
    ax.tick_params(length=6, width=1.0, labelsize=10.5)
    ax.tick_params(axis="y", pad=5.5)
    ax.tick_params(axis="x", pad=10)
    if row < 2:
        ax.tick_params(axis="x", bottom=False, labelbottom=False)
    for v in (0.585, -0.585):
        ax.axhline(v, xmin=0.012, xmax=0.99, color=GRAY, lw=1.1, ls=(0, (1, 5)), zorder=1)
    return ax


def annotate(ax, idx):
    ax.text(0.0174, 0.926, letters[idx], transform=ax.transAxes, fontsize=23, ha="left", va="center")
    ax.text(0.962, 0.107, up_counts[idx], transform=ax.transAxes, fontsize=15.2, color=RED, ha="right", va="center")
    ax.text(0.962, 0.053, down_counts[idx], transform=ax.transAxes, fontsize=15.2, color=BLUE, ha="right", va="center")


def venn(ax, labels):
    for cy in (0.825, 0.713):
        ax.add_patch(Ellipse((0.878, cy), 0.223, 0.223, transform=ax.transAxes, fill=False, ec="black", lw=1.4, zorder=5))
    for y, label in zip((0.961, 0.881, 0.77, 0.658, 0.577), labels):
        ax.text(0.878, y, label, transform=ax.transAxes, fontsize=11.4, ha="center", va="center", zorder=6)


def main():
    fig = plt.figure(figsize=(W / 100, H / 100), dpi=100)

    left = [(a_band_x, a_band_top, a_band_bot, a_gray, a_red, a_blue, venn_a),
            (b_band_x, b_band_top, b_band_bot, b_gray, b_red, b_blue, venn_b),
            (c_band_x, c_band_top, c_band_bot, c_gray, c_red, c_blue, venn_c)]
    for row, (bx, bt, bb, gray, red, blue, labels) in enumerate(left):
        ax = make_axes(fig, 0, row)
        body(ax, bx, bt, bb, GRAY)
        pts(ax, gray, GRAY)
        pts(ax, red, RED)
        pts(ax, blue, BLUE)
        annotate(ax, row)
        venn(ax, labels)

    right = [(d_band_x, d_band_top, d_band_bot, d_gray, d_up_x, d_up_top, d_up_bot, d_red, d_dn_x, d_dn_top, d_dn_bot, d_blue),
             (e_band_x, e_band_top, e_band_bot, e_gray, e_up_x, e_up_top, e_up_bot, e_red, e_dn_x, e_dn_top, e_dn_bot, e_blue),
             (f_band_x, f_band_top, f_band_bot, f_gray, f_up_x, f_up_top, f_up_bot, f_red, f_dn_x, f_dn_top, f_dn_bot, f_blue)]
    for row, (bx, bt, bb, gray, ux, ut, ub, red, dx, dt, db, blue) in enumerate(right):
        ax = make_axes(fig, 1, row)
        body(ax, bx, bt, bb, GRAY)
        pts(ax, gray, GRAY)
        body(ax, ux, ut, ub, RED)
        pts(ax, red, RED)
        body(ax, dx, dt, db, BLUE)
        pts(ax, blue, BLUE)
        annotate(ax, row + 3)
        fig.text(1365 / W, 1 - (row_top[row] + 197 + 3) / H, row_names[row], rotation=90, fontsize=23.4, ha="center", va="center")

    fig.text(403 / W, 1 - 27 / H, "SILAC\u2212based MS data", fontsize=23, fontweight="bold", ha="center", va="center")
    fig.text(1028 / W, 1 - 21 / H, "RNA\u2212seq data", fontsize=23, fontweight="bold", ha="center", va="center")
    fig.text(403 / W, 1 - 1359 / H, r"log$_{10}$ average intensity", fontsize=23, ha="center", va="center")
    fig.text(1028 / W, 1 - 1359 / H, r"log$_2$ average counts per million", fontsize=23, ha="center", va="center")
    fig.text(29 / W, 1 - 683 / H, r"log$_2$ fold change (mutant/wild type)", rotation=90, fontsize=23, ha="center", va="center")

    fig.savefig("out.png", dpi=100)


if __name__ == "__main__":
    main()
